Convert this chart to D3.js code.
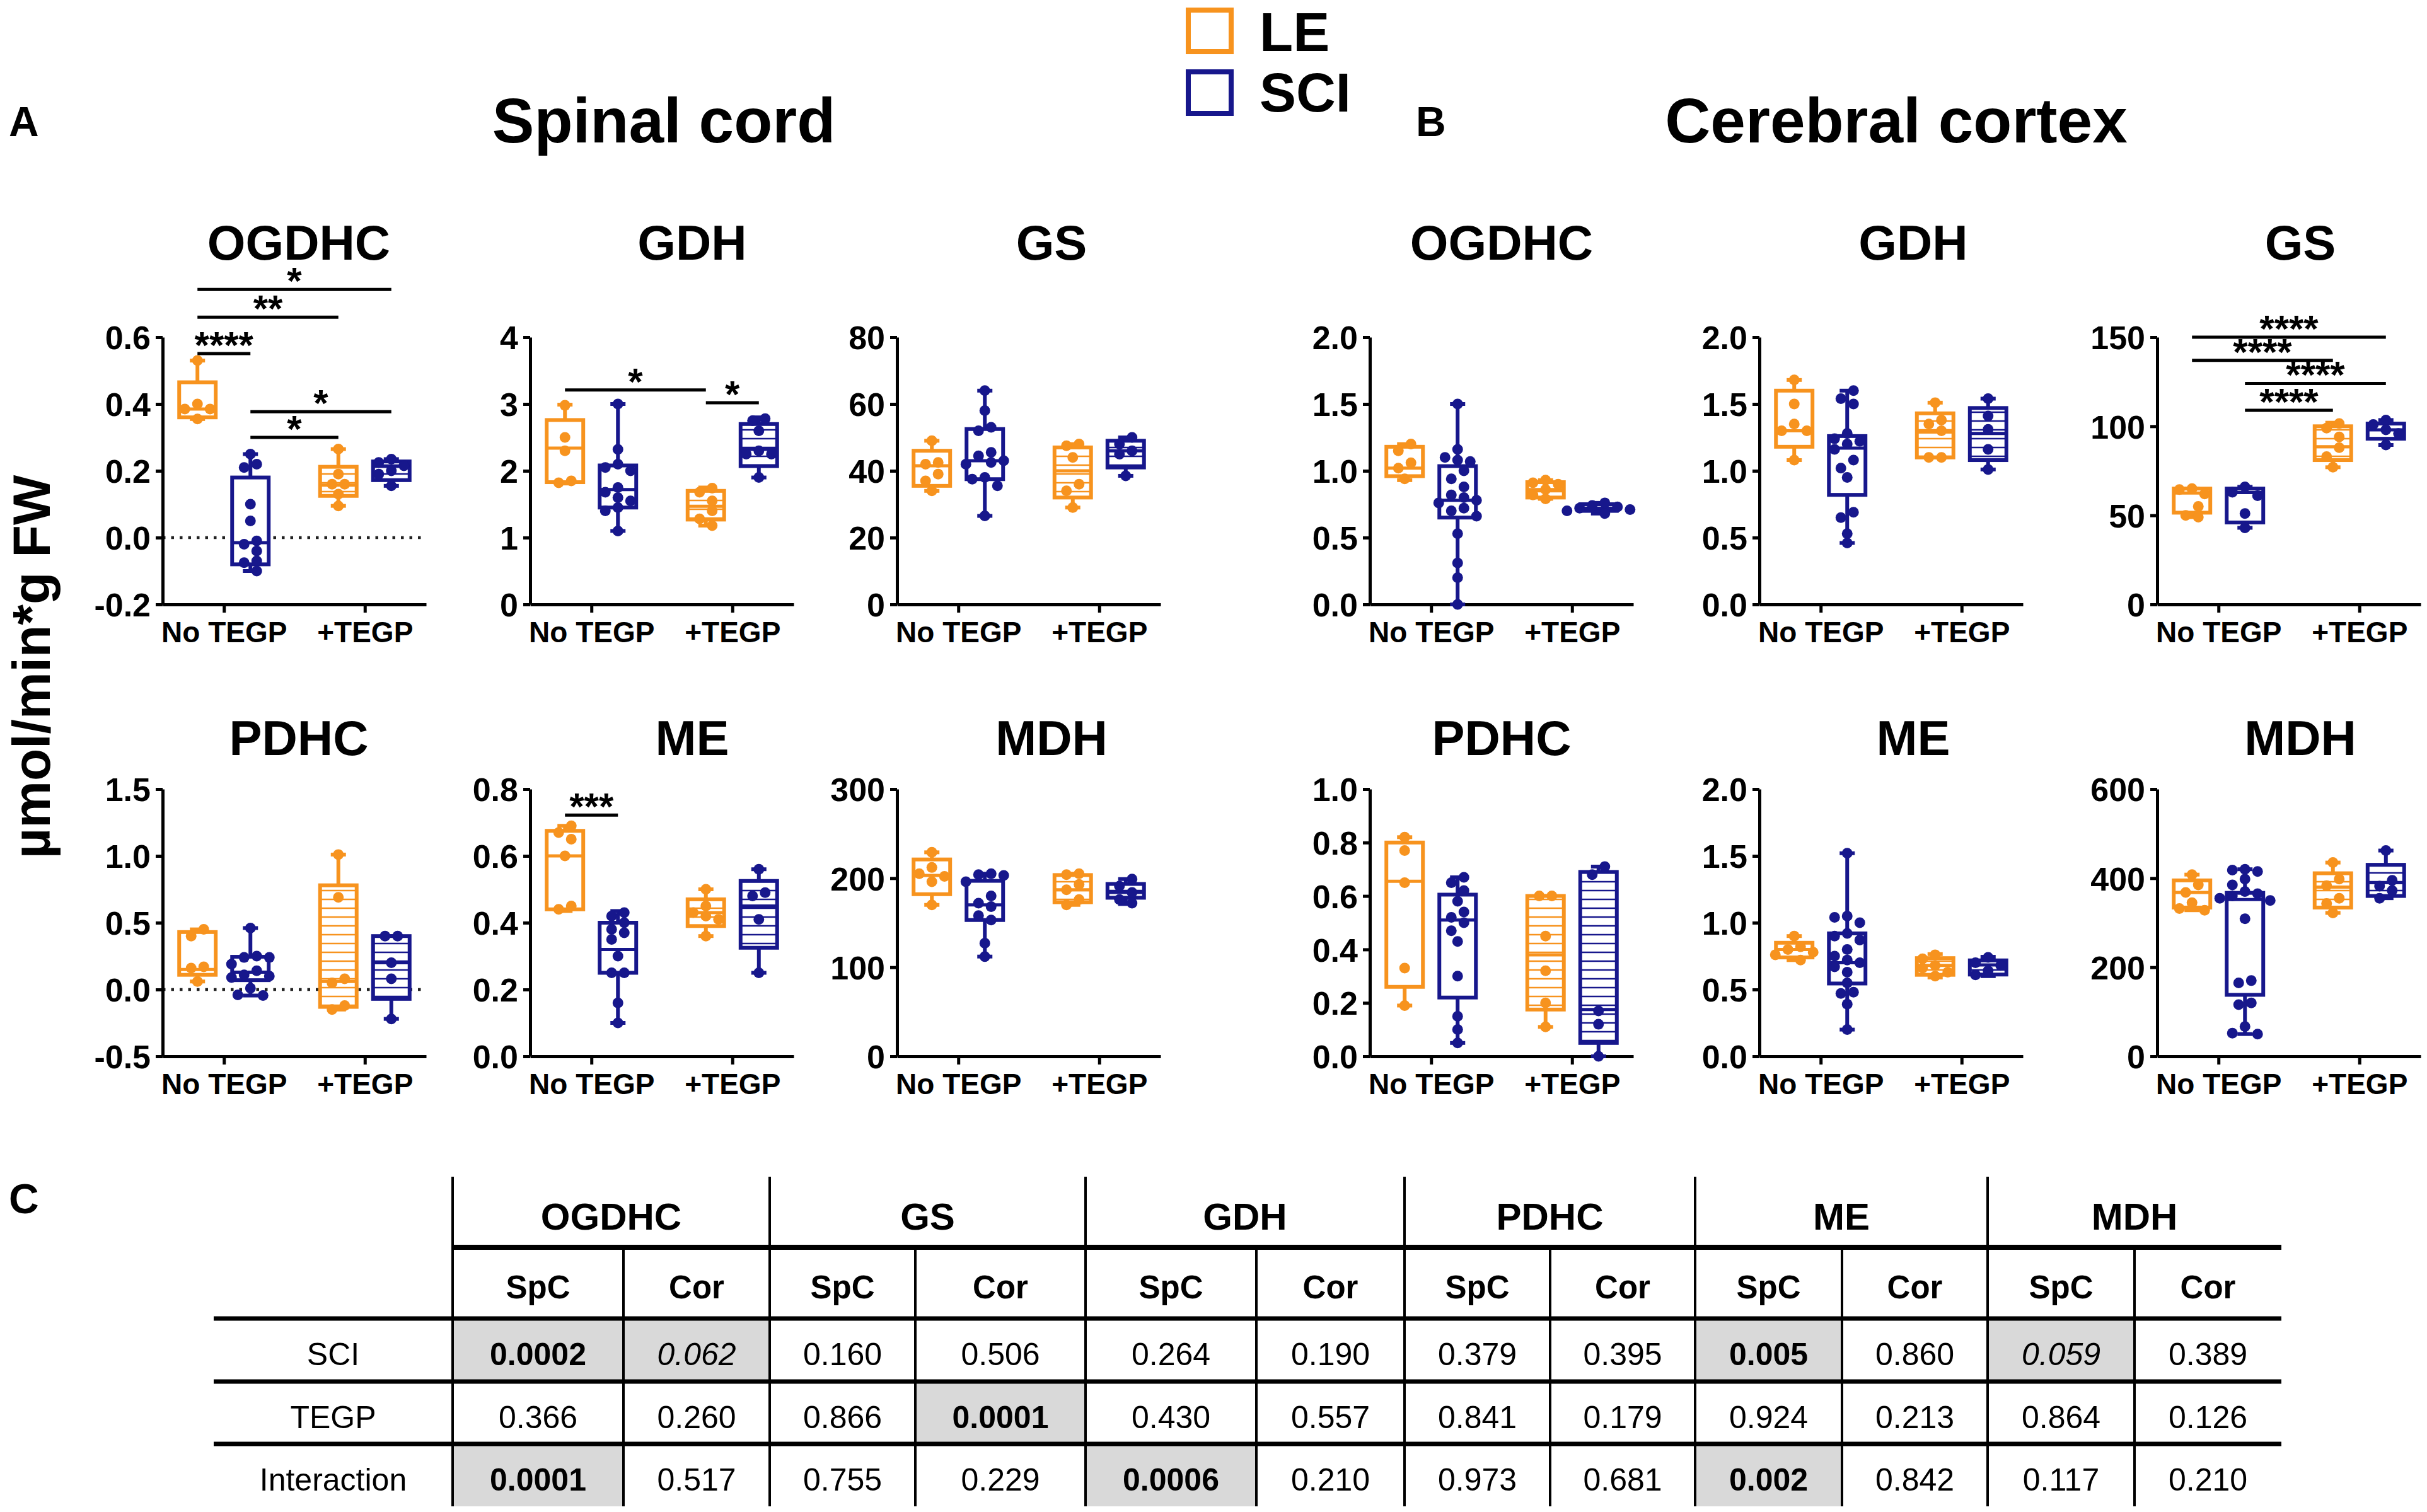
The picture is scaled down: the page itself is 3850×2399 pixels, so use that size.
<!DOCTYPE html>
<html lang="en">
<head>
<meta charset="UTF-8">
<title>Enzyme activities - spinal cord and cerebral cortex</title>
<script src="https://d3js.org/d3.v7.min.js"></script>
<style>
  body { margin: 0; background: #fff; }
  svg text { font-family: "Liberation Sans", Arial, Helvetica, sans-serif; }
</style>
</head>
<body>
<div id="chart"></div>
<script>
// ---------------- data ----------------
const conditions = ["No TEGP", "+TEGP"];
const groups = ["LE", "SCI"];
const groupColors = ["#F7931E", "#17178C"];
const regionTitles = ["Spinal cord", "Cerebral cortex"];
const panelLetters = ["A", "B", "C"];
const yLabel = "µmol/min*g FW";

// box order: LE No TEGP, SCI No TEGP, LE +TEGP, SCI +TEGP ; stats = [min, q1, median, q3, max]
const scOGDHC_ticks = [-0.2, 0, 0.2, 0.4, 0.6];
const scOGDHC_box = [[0.355, 0.36, 0.385, 0.465, 0.53], [-0.10, -0.08, -0.015, 0.18, 0.25], [0.095, 0.125, 0.157, 0.212, 0.265], [0.155, 0.172, 0.213, 0.228, 0.235]];
const scOGDHC_pts = [[0.53, 0.40, 0.385, 0.385, 0.355], [0.25, 0.22, 0.21, 0.10, 0.05, -0.01, -0.02, -0.04, -0.07, -0.075, -0.10], [0.265, 0.19, 0.16, 0.16, 0.13, 0.095], [0.235, 0.225, 0.215, 0.20, 0.19, 0.155]];
const scOGDHC_sig = [[0, 3, 0.743, "*"], [0, 2, 0.66, "**"], [0, 1, 0.551, "****"], [1, 3, 0.377, "*"], [1, 2, 0.30, "*"]];

const scGDH_ticks = [0, 1, 2, 3, 4];
const scGDH_box = [[1.81, 1.83, 2.34, 2.76, 2.99], [1.1, 1.45, 1.72, 2.08, 3.0], [1.18, 1.27, 1.47, 1.70, 1.75], [1.9, 2.07, 2.32, 2.7, 2.8]];
const scGDH_pts = [[2.98, 2.5, 2.3, 1.85, 1.82], [3.0, 2.32, 2.1, 2.05, 2.0, 1.75, 1.68, 1.6, 1.55, 1.45, 1.4, 1.1], [1.74, 1.68, 1.55, 1.4, 1.28, 1.18], [2.78, 2.75, 2.6, 2.3, 2.25, 2.25, 1.9]];
const scGDH_sig = [[0, 2, 3.21, "*"], [2, 3, 3.02, "*"]];

const scGS_ticks = [0, 20, 40, 60, 80];
const scGS_box = [[34, 35.5, 41.5, 46, 49], [26.5, 37.5, 43, 52.5, 64], [29, 32, 40, 47, 48], [38.5, 41, 46, 49, 50]];
const scGS_pts = [[49, 42.5, 42, 39, 37, 34], [64, 58, 53, 52, 45.5, 44.5, 43, 42.5, 42, 38, 37.5, 35.5, 26.5], [48, 47.5, 44, 36, 34, 29], [50, 48, 46, 45, 38.5]];

const scPDHC_ticks = [-0.5, 0, 0.5, 1.0, 1.5];
const scPDHC_box = [[0.06, 0.11, 0.15, 0.43, 0.45], [-0.045, 0.07, 0.13, 0.245, 0.46], [-0.15, -0.13, 0.06, 0.78, 1.01], [-0.22, -0.07, 0.2, 0.4, 0.4]];
const scPDHC_pts = [[0.45, 0.40, 0.17, 0.16, 0.06], [0.46, 0.25, 0.24, 0.24, 0.19, 0.14, 0.11, 0.10, 0.09, 0.01, -0.04, -0.045], [1.01, 0.69, 0.08, 0.05, -0.12, -0.15], [0.4, 0.4, 0.2, 0.08, -0.22]];

const scME_ticks = [0, 0.2, 0.4, 0.6, 0.8];
const scME_box = [[0.435, 0.44, 0.6, 0.675, 0.69], [0.1, 0.25, 0.32, 0.40, 0.435], [0.36, 0.39, 0.43, 0.47, 0.5], [0.25, 0.325, 0.45, 0.525, 0.56]];
const scME_pts = [[0.69, 0.67, 0.65, 0.6, 0.45, 0.44], [0.43, 0.42, 0.40, 0.38, 0.37, 0.35, 0.30, 0.25, 0.25, 0.16, 0.10], [0.5, 0.45, 0.43, 0.42, 0.41, 0.36], [0.56, 0.49, 0.48, 0.41, 0.25]];
const scME_sig = [[0, 1, 0.722, "***"]];

const scMDH_ticks = [0, 100, 200, 300];
const scMDH_box = [[170, 182, 203, 221, 229], [112, 153, 170, 197, 205], [170, 173, 187, 203.5, 205], [171, 178, 184, 193.5, 199]];
const scMDH_pts = [[229, 212, 205, 202, 196, 170], [205, 204, 203, 196, 180, 172, 168, 158, 153, 127, 112], [205, 204, 193, 187, 176, 170], [199, 191, 184, 176, 172]];

const cxOGDHC_ticks = [0, 0.5, 1.0, 1.5, 2.0];
const cxOGDHC_box = [[0.93, 0.96, 1.02, 1.18, 1.2], [0.0, 0.65, 0.78, 1.035, 1.5], [0.79, 0.8, 0.86, 0.915, 0.93], [0.68, 0.70, 0.72, 0.75, 0.76]];
const cxOGDHC_pts = [[1.2, 1.15, 1.06, 1.02, 0.94], [1.5, 1.16, 1.1, 1.08, 1.07, 1.0, 0.94, 0.88, 0.82, 0.8, 0.78, 0.76, 0.72, 0.7, 0.66, 0.53, 0.31, 0.2, 0.0], [0.93, 0.91, 0.9, 0.86, 0.82, 0.79], [0.76, 0.74, 0.73, 0.72, 0.71, 0.70, 0.68]];

const cxGDH_ticks = [0, 0.5, 1.0, 1.5, 2.0];
const cxGDH_box = [[1.08, 1.18, 1.3, 1.6, 1.68], [0.46, 0.82, 1.17, 1.26, 1.6], [1.1, 1.1, 1.29, 1.43, 1.51], [1.01, 1.08, 1.28, 1.47, 1.54]];
const cxGDH_pts = [[1.68, 1.5, 1.35, 1.3, 1.3, 1.08], [1.6, 1.54, 1.5, 1.28, 1.24, 1.22, 1.2, 1.16, 1.08, 1.02, 0.95, 0.69, 0.65, 0.53, 0.46], [1.51, 1.38, 1.35, 1.3, 1.1, 1.1], [1.54, 1.41, 1.31, 1.16, 1.01]];

const cxGS_ticks = [0, 50, 100, 150];
const cxGS_box = [[49, 51.5, 62.5, 65, 65], [43, 46, 62.8, 65, 66], [77, 81, 88.5, 100, 102], [89.5, 93, 98, 101.5, 103.5]];
const cxGS_pts = [[65, 64.5, 62, 55, 50, 49], [66, 63, 61, 51, 43], [101.5, 99, 94, 88, 83, 77], [103.5, 101, 98, 96, 89.5]];
const cxGS_sig = [[0, 3, 150, "****"], [0, 2, 137, "****"], [1, 3, 124, "****"], [1, 2, 109, "****"]];

const cxPDHC_ticks = [0, 0.2, 0.4, 0.6, 0.8, 1.0];
const cxPDHC_box = [[0.19, 0.26, 0.655, 0.80, 0.82], [0.05, 0.22, 0.51, 0.605, 0.67], [0.11, 0.175, 0.38, 0.6, 0.6], [0.0, 0.05, 0.175, 0.69, 0.71]];
const cxPDHC_pts = [[0.82, 0.77, 0.65, 0.33, 0.19], [0.67, 0.65, 0.62, 0.58, 0.54, 0.52, 0.50, 0.47, 0.43, 0.30, 0.15, 0.10, 0.05], [0.6, 0.6, 0.45, 0.32, 0.2, 0.11], [0.71, 0.68, 0.17, 0.12, 0.0]];

const cxME_ticks = [0, 0.5, 1.0, 1.5, 2.0];
const cxME_box = [[0.72, 0.74, 0.8, 0.85, 0.9], [0.2, 0.545, 0.70, 0.92, 1.52], [0.59, 0.61, 0.68, 0.735, 0.765], [0.6, 0.612, 0.684, 0.718, 0.745]];
const cxME_pts = [[0.9, 0.82, 0.8, 0.78, 0.76, 0.72], [1.52, 1.05, 1.04, 1.0, 0.92, 0.9, 0.87, 0.8, 0.75, 0.72, 0.7, 0.67, 0.63, 0.55, 0.48, 0.47, 0.39, 0.2], [0.76, 0.73, 0.68, 0.66, 0.63, 0.6], [0.74, 0.7, 0.68, 0.64, 0.61]];

const cxMDH_ticks = [0, 200, 400, 600];
const cxMDH_box = [[328, 334, 368, 395, 408], [50, 138, 352, 367, 420], [322, 334, 380, 411, 435], [355, 360, 390, 430, 462]];
const cxMDH_pts = [[408, 385, 368, 345, 332, 328], [420, 418, 415, 398, 385, 370, 365, 360, 355, 350, 309, 170, 165, 120, 116, 67, 52, 50], [435, 398, 383, 355, 343, 322], [462, 395, 382, 372, 355]];

// table C: two-way ANOVA p values
const tEnzymes = ["OGDHC", "GS", "GDH", "PDHC", "ME", "MDH"];
const tTissues = ["SpC", "Cor"];
const tRows = ["SCI", "TEGP", "Interaction"];
const pSCI   = ["0.0002", "0.062", "0.160", "0.506", "0.264", "0.190", "0.379", "0.395", "0.005", "0.860", "0.059", "0.389"];
const pTEGP  = ["0.366", "0.260", "0.866", "0.0001", "0.430", "0.557", "0.841", "0.179", "0.924", "0.213", "0.864", "0.126"];
const pInter = ["0.0001", "0.517", "0.755", "0.229", "0.0006", "0.210", "0.973", "0.681", "0.002", "0.842", "0.117", "0.210"];

// ---------------- layout ----------------
const W = 3850, H = 2399;
const plotW = 418, plotH = 424;
const colX = [258, 841, 1423, 2173, 2791, 3422];
const rowY = [535, 1252];
const titleY = [412, 1198];
const titleDx = [7, 48, 36, 0, 35, 18];
const BLACK = "#000";

const svg = d3.select("#chart").append("svg")
  .attr("width", W).attr("height", H)
  .attr("viewBox", `0 0 ${W} ${H}`);

// hatch patterns for +TEGP boxes
const defs = svg.append("defs");
groups.forEach((gname, i) => {
  const pat = defs.append("pattern")
    .attr("id", "hatch" + i)
    .attr("patternUnits", "userSpaceOnUse")
    .attr("width", 20).attr("height", 14);
  pat.append("rect").attr("width", 20).attr("height", 14).attr("fill", "#fff");
  pat.append("line").attr("x1", 0).attr("x2", 20).attr("y1", 7).attr("y2", 7)
    .attr("stroke", groupColors[i]).attr("stroke-width", 2.5);
});

const panels = [
  { title: "OGDHC", ticks: scOGDHC_ticks, box: scOGDHC_box, pts: scOGDHC_pts, sig: scOGDHC_sig },
  { title: "GDH", ticks: scGDH_ticks, box: scGDH_box, pts: scGDH_pts, sig: scGDH_sig },
  { title: "GS", ticks: scGS_ticks, box: scGS_box, pts: scGS_pts, sig: [] },
  { title: "OGDHC", ticks: cxOGDHC_ticks, box: cxOGDHC_box, pts: cxOGDHC_pts, sig: [] },
  { title: "GDH", ticks: cxGDH_ticks, box: cxGDH_box, pts: cxGDH_pts, sig: [] },
  { title: "GS", ticks: cxGS_ticks, box: cxGS_box, pts: cxGS_pts, sig: cxGS_sig },
  { title: "PDHC", ticks: scPDHC_ticks, box: scPDHC_box, pts: scPDHC_pts, sig: [] },
  { title: "ME", ticks: scME_ticks, box: scME_box, pts: scME_pts, sig: scME_sig },
  { title: "MDH", ticks: scMDH_ticks, box: scMDH_box, pts: scMDH_pts, sig: [] },
  { title: "PDHC", ticks: cxPDHC_ticks, box: cxPDHC_box, pts: cxPDHC_pts, sig: [] },
  { title: "ME", ticks: cxME_ticks, box: cxME_box, pts: cxME_pts, sig: [] },
  { title: "MDH", ticks: cxMDH_ticks, box: cxMDH_box, pts: cxMDH_pts, sig: [] }
];

// simple swarm so that dots with close values sit side by side
function swarm(values, y, r, step) {
  const pts = values.map(v => ({ v, py: y(v) })).sort((a, b) => a.py - b.py);
  const placed = [];
  pts.forEach(p => {
    const cands = [0];
    for (let k = 1; k < 6; k++) cands.push(-k * step, k * step);
    p.dx = 0;
    for (const dx of cands) {
      if (placed.every(q => Math.hypot(q.dx - dx, q.py - p.py) >= 1.7 * r)) { p.dx = dx; break; }
    }
    placed.push(p);
  });
  // centre each cluster of touching dots
  let cluster = [];
  const flush = () => {
    if (cluster.length) {
      const mid = (d3.min(cluster, c => c.dx) + d3.max(cluster, c => c.dx)) / 2;
      cluster.forEach(c => c.dx -= mid);
    }
    cluster = [];
  };
  placed.forEach((p, i) => {
    if (i > 0 && p.py - placed[i - 1].py >= 1.7 * r) flush();
    cluster.push(p);
  });
  flush();
  return placed;
}

function drawPanel(p, idx) {
  const row = Math.floor(idx / 6), col = idx % 6;
  const g = svg.append("g").attr("transform", `translate(${colX[col]},${rowY[row]})`);
  const y = d3.scaleLinear().domain(d3.extent(p.ticks)).range([plotH, 0]);
  const xCond = d3.scalePoint().domain(conditions).range([0, plotW]).padding(0.435);
  const xGrp = d3.scaleBand().domain(groups).range([-71, 71]).paddingInner(0.31);
  const bw = xGrp.bandwidth();
  const center = i => xCond(conditions[Math.floor(i / 2)]) + xGrp(groups[i % 2]) + bw / 2;
  const intTicks = p.ticks.every(t => Number.isInteger(t));
  const f = intTicks ? d3.format("d") : d3.format(".1f");
  const fmt = v => f(v).replace("\u2212", "-");

  // title
  svg.append("text")
    .attr("x", colX[col] + plotW / 2 + titleDx[col])
    .attr("y", titleY[row])
    .attr("text-anchor", "middle")
    .attr("font-size", 78).attr("font-weight", "bold")
    .text(p.title);

  // dotted zero line
  if (y.domain()[0] < 0) {
    g.append("line")
      .attr("x1", 0).attr("x2", plotW)
      .attr("y1", y(0)).attr("y2", y(0))
      .attr("stroke", "#222").attr("stroke-width", 4.5)
      .attr("stroke-dasharray", "4.5 9");
  }

  // axes
  const yAx = g.append("g").call(d3.axisLeft(y).tickValues(p.ticks).tickFormat(fmt)
    .tickSize(11).tickSizeOuter(0).tickPadding(8));
  const xAx = g.append("g").attr("transform", `translate(0,${plotH})`)
    .call(d3.axisBottom(xCond).tickSize(13).tickSizeOuter(0).tickPadding(14));
  [yAx, xAx].forEach(a => {
    a.attr("font-family", null).attr("font-size", null);
    a.select(".domain").attr("stroke", BLACK).attr("stroke-width", 5);
    a.selectAll(".tick line").attr("stroke", BLACK).attr("stroke-width", 5);
    a.selectAll(".tick text").attr("fill", BLACK).attr("font-weight", "bold");
  });
  yAx.selectAll(".tick text").attr("font-size", 52).attr("dy", "0.36em");
  xAx.selectAll(".tick text").attr("font-size", 46);

  // boxes
  p.box.forEach((s, i) => {
    const cx = center(i);
    const color = groupColors[i % 2];
    const hatched = Math.floor(i / 2) === 1;
    const bg = g.append("g");
    bg.append("line").attr("x1", cx).attr("x2", cx).attr("y1", y(s[0])).attr("y2", y(s[4]))
      .attr("stroke", color).attr("stroke-width", 6);
    [s[0], s[4]].forEach(v => {
      bg.append("line").attr("x1", cx - 12).attr("x2", cx + 12).attr("y1", y(v)).attr("y2", y(v))
        .attr("stroke", color).attr("stroke-width", 6);
    });
    bg.append("rect")
      .attr("x", cx - bw / 2).attr("width", bw)
      .attr("y", y(s[3])).attr("height", y(s[1]) - y(s[3]))
      .attr("fill", hatched ? `url(#hatch${i % 2})` : "#fff")
      .attr("stroke", color).attr("stroke-width", 6);
    bg.append("line").attr("x1", cx - bw / 2).attr("x2", cx + bw / 2)
      .attr("y1", y(s[2])).attr("y2", y(s[2]))
      .attr("stroke", color).attr("stroke-width", 5);
    bg.selectAll("circle").data(swarm(p.pts[i], y, 8.5, 20)).join("circle")
      .attr("cx", d => cx + d.dx).attr("cy", d => d.py).attr("r", 8.5)
      .attr("fill", color);
  });

  // significance bars
  p.sig.forEach(([a, b, v, label]) => {
    g.append("line").attr("x1", center(a)).attr("x2", center(b))
      .attr("y1", y(v)).attr("y2", y(v))
      .attr("stroke", BLACK).attr("stroke-width", 5);
    g.append("text").attr("x", (center(a) + center(b)) / 2).attr("y", y(v) + 7)
      .attr("text-anchor", "middle").attr("font-size", 60).attr("font-weight", "bold")
      .text(label);
  });
}

panels.forEach(drawPanel);

// region titles and letters
svg.append("text").attr("x", 1053).attr("y", 226).attr("text-anchor", "middle")
  .attr("font-size", 100).attr("font-weight", "bold").text(regionTitles[0]);
svg.append("text").attr("x", 3008).attr("y", 226).attr("text-anchor", "middle")
  .attr("font-size", 100).attr("font-weight", "bold").text(regionTitles[1]);
[[14, 216], [2246, 216], [14, 1925]].forEach(([x, yy], i) => {
  svg.append("text").attr("x", x).attr("y", yy).attr("font-size", 66).attr("font-weight", "bold")
    .text(panelLetters[i]);
});

// legend
groups.forEach((gname, i) => {
  svg.append("rect").attr("x", 1885).attr("y", 16 + i * 98).attr("width", 68).attr("height", 66)
    .attr("fill", "#fff").attr("stroke", groupColors[i]).attr("stroke-width", 8);
  svg.append("text").attr("x", 1998).attr("y", 81 + i * 96)
    .attr("font-size", 87).attr("font-weight", "bold").text(gname);
});

// y label
svg.append("text").attr("transform", "translate(79,1058) rotate(-90)")
  .attr("text-anchor", "middle").attr("font-size", 84).attr("font-weight", "bold")
  .text(yLabel);

// ---------------- table C ----------------
const colEdges = [718, 989, 1221, 1452, 1722, 1993, 2228, 2459, 2689, 2922, 3153, 3386, 3619];
const rowEdges = [1867, 1979, 2092, 2192, 2291, 2390];
const labelLeft = 339;
const tbl = svg.append("g");
const pRows = [pSCI, pTEGP, pInter];
const baseY = (r, fs) => (rowEdges[r] + rowEdges[r + 1]) / 2 + 0.36 * fs + 6;

// shaded cells and values
pRows.forEach((vals, r) => {
  vals.forEach((v, c) => {
    const p = +v;
    const cell = tbl.append("g");
    if (p < 0.1) {
      cell.append("rect").attr("x", colEdges[c]).attr("y", rowEdges[r + 2])
        .attr("width", colEdges[c + 1] - colEdges[c]).attr("height", rowEdges[r + 3] - rowEdges[r + 2])
        .attr("fill", "#D9D9D9");
    }
    cell.append("text").attr("x", (colEdges[c] + colEdges[c + 1]) / 2).attr("y", baseY(r + 2, 50))
      .attr("text-anchor", "middle").attr("font-size", 50)
      .attr("font-weight", p < 0.05 ? "bold" : "normal")
      .attr("font-style", p >= 0.05 && p < 0.1 ? "italic" : "normal")
      .text(v);
  });
  tbl.append("text").attr("x", (labelLeft + colEdges[0]) / 2).attr("y", baseY(r + 2, 50))
    .attr("text-anchor", "middle").attr("font-size", 50).text(tRows[r]);
});

// headers
tEnzymes.forEach((e, i) => {
  tbl.append("text").attr("x", (colEdges[2 * i] + colEdges[2 * i + 2]) / 2).attr("y", baseY(0, 60))
    .attr("text-anchor", "middle").attr("font-size", 60).attr("font-weight", "bold").text(e);
  tTissues.forEach((t, j) => {
    const c = 2 * i + j;
    tbl.append("text").attr("x", (colEdges[c] + colEdges[c + 1]) / 2).attr("y", baseY(1, 51))
      .attr("text-anchor", "middle").attr("font-size", 51).attr("font-weight", "bold").text(t);
  });
});

// grid lines
tbl.append("line").attr("x1", colEdges[0]).attr("x2", colEdges[12])
  .attr("y1", rowEdges[1]).attr("y2", rowEdges[1]).attr("stroke", BLACK).attr("stroke-width", 8);
[2, 3, 4].forEach(r => {
  tbl.append("line").attr("x1", labelLeft).attr("x2", colEdges[12])
    .attr("y1", rowEdges[r]).attr("y2", rowEdges[r]).attr("stroke", BLACK).attr("stroke-width", 7);
});
colEdges.slice(0, 12).forEach((x, c) => {
  tbl.append("line").attr("x1", x).attr("x2", x)
    .attr("y1", c % 2 === 0 ? rowEdges[0] : rowEdges[1]).attr("y2", rowEdges[5])
    .attr("stroke", BLACK).attr("stroke-width", 4);
});
</script>
</body>
</html>
